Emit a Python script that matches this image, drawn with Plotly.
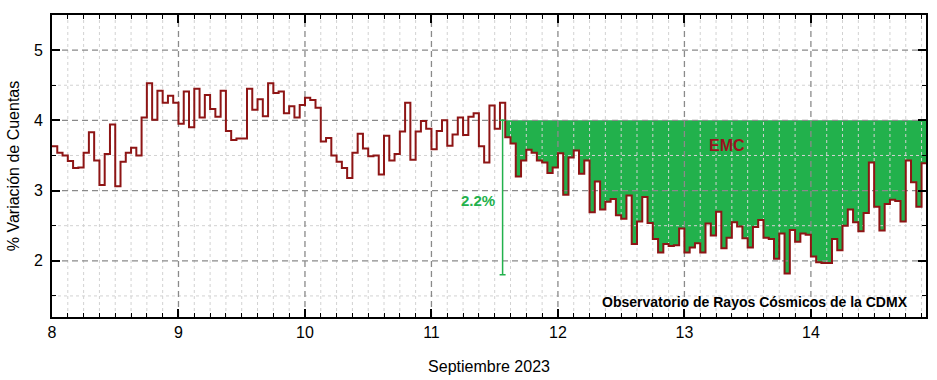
import plotly.graph_objects as go

# ---------------- data ----------------
START_DAY = 8            # 8 de septiembre 2023, 00:00
HOURS_PER_DAY = 24
variacion = [
    3.63, 3.54, 3.50, 3.42, 3.32, 3.33, 3.54, 3.83, 3.43, 3.08, 3.52, 3.94,
    3.06, 3.41, 3.54, 3.61, 3.50, 4.04, 4.53, 4.01, 4.42, 4.25, 4.35, 4.25,
    3.95, 4.41, 3.90, 4.45, 4.04, 4.36, 4.16, 4.05, 4.42, 3.85, 3.72, 3.74,
    3.74, 4.45, 4.15, 4.30, 4.06, 4.53, 4.39, 4.41, 4.10, 4.20, 4.04, 4.22,
    4.32, 4.29, 4.18, 3.70, 3.75, 3.50, 3.41, 3.32, 3.18, 3.54, 3.81, 3.60,
    3.49, 3.50, 3.23, 3.78, 3.43, 3.52, 3.84, 4.25, 3.44, 3.84, 3.99, 3.88,
    3.59, 3.85, 4.00, 3.64, 3.80, 4.04, 3.79, 4.05, 4.10, 3.63, 3.40, 4.21,
    3.88, 4.25, 3.76, 3.67, 3.20, 3.43, 3.58, 3.54, 3.43, 3.40, 3.25, 3.33,
    3.53, 2.94, 3.47, 3.57, 3.24, 3.43, 2.69, 3.13, 2.73, 2.84, 2.88, 2.65,
    2.60, 2.93, 2.24, 2.56, 2.91, 2.54, 2.31, 2.12, 2.24, 2.21, 2.22, 2.46,
    2.12, 2.19, 2.25, 2.12, 2.53, 2.36, 2.70, 2.18, 2.33, 2.55, 2.49, 2.32,
    2.19, 2.48, 2.58, 2.33, 2.31, 2.03, 2.39, 1.82, 2.44, 2.27, 2.39, 2.37,
    2.06, 1.98, 1.97, 1.97, 2.31, 2.15, 2.50, 2.73, 2.55, 2.42, 2.68, 3.40,
    2.77, 2.43, 2.81, 2.87, 2.85, 2.56, 3.43, 3.12, 2.77, 3.39,
]
EVENT_START_HOUR = 86     # inicio del decrecimiento (EMC)
BASE_LEVEL = 4.0          # nivel previo al evento
DROP = 2.2                # magnitud del decrecimiento (%)
x_ticks = [8, 9, 10, 11, 12, 13, 14]
y_ticks = [2, 3, 4, 5]
X_RANGE = [8, 14.91]
Y_RANGE = [1.2, 5.5]

# ---------------- derived ----------------
n = len(variacion)
t = [START_DAY + i / HOURS_PER_DAY for i in range(n + 1)]
v = variacion + [variacion[-1]]

RED = "#8E1515"
GREEN = "#22B14C"
FONT = "Arial, Liberation Sans, sans-serif"

fig = go.Figure()

# EMC fill between base level and the series
fig.add_trace(go.Scatter(
    x=[t[EVENT_START_HOUR], t[-1]], y=[BASE_LEVEL, BASE_LEVEL],
    mode="lines", line=dict(width=0, color=GREEN), line_shape="hv",
    showlegend=False, hoverinfo="skip"))
fig.add_trace(go.Scatter(
    x=t[EVENT_START_HOUR:], y=v[EVENT_START_HOUR:],
    mode="lines", line=dict(width=0, color=GREEN), line_shape="hv",
    fill="tonexty", fillcolor=GREEN, showlegend=False, hoverinfo="skip"))

# grid drawn above the fill
def vlines(xs):
    X, Y = [], []
    for x in xs:
        X += [x, x, None]
        Y += [Y_RANGE[0], Y_RANGE[1], None]
    return X, Y

def hlines(ys):
    X, Y = [], []
    for y in ys:
        X += [X_RANGE[0], X_RANGE[1], None]
        Y += [y, y, None]
    return X, Y

x_minor = [x_ticks[0] + k / 8 for k in range(int((X_RANGE[1] - X_RANGE[0]) * 8) + 1)
           if k % 8 != 0]
y_minor = [yt + 0.5 for yt in [1] + y_ticks if Y_RANGE[0] < yt + 0.5 < Y_RANGE[1]]

for (X, Y) in [vlines(x_minor), hlines(y_minor)]:
    fig.add_trace(go.Scatter(x=X, y=Y, mode="lines",
                             line=dict(color="#D2D2D2", width=1, dash="dot"),
                             showlegend=False, hoverinfo="skip"))
for (X, Y) in [vlines(x_ticks[1:]), hlines(y_ticks)]:
    fig.add_trace(go.Scatter(x=X, y=Y, mode="lines",
                             line=dict(color="#8A8A8A", width=1.3, dash="6px,4px"),
                             showlegend=False, hoverinfo="skip"))

# main step series
fig.add_trace(go.Scatter(
    x=t, y=v, mode="lines", line=dict(color=RED, width=2), line_shape="hv",
    showlegend=False))

# drop indicator
drop_x = t[EVENT_START_HOUR] - 0.5 / HOURS_PER_DAY
fig.add_trace(go.Scatter(
    x=[drop_x], y=[BASE_LEVEL], mode="markers",
    marker=dict(size=2, color=GREEN),
    error_y=dict(type="data", symmetric=False, array=[0], arrayminus=[DROP],
                 color=GREEN, thickness=1.5, width=3),
    showlegend=False, hoverinfo="skip"))

fig.add_annotation(x=11.365, y=2.86, text="<b>2.2%</b>", showarrow=False,
                   font=dict(family=FONT, size=15, color=GREEN))
fig.add_annotation(x=13.34, y=3.64, text="<b>EMC</b>", showarrow=False,
                   font=dict(family=FONT, size=16, color="#9B111E"))
fig.add_annotation(xref="paper", x=0.9815, y=1.42, xanchor="right",
                   text="<b>Observatorio de Rayos Cósmicos de la CDMX</b>",
                   showarrow=False, font=dict(family=FONT, size=14, color="black"))

axis_common = dict(showline=True, linecolor="black", linewidth=2,
                   mirror="allticks", ticks="inside", ticklen=8, tickwidth=1.5,
                   tickcolor="black", showgrid=False, zeroline=False,
                   automargin=False,
                   tickfont=dict(family=FONT, size=16, color="black"))

fig.update_xaxes(range=X_RANGE, tickvals=x_ticks, **axis_common,
                 minor=dict(dtick=0.125, ticks="inside", ticklen=4,
                            tickcolor="black", tickwidth=1, showgrid=False),
                 title=dict(text="Septiembre 2023", standoff=21,
                            font=dict(family=FONT, size=16, color="black")))
fig.update_yaxes(range=Y_RANGE, tickvals=y_ticks, **axis_common,
                 ticklabelstandoff=4,
                 minor=dict(dtick=0.5, ticks="inside", ticklen=4,
                            tickcolor="black", tickwidth=1, showgrid=False),
                 title=dict(text="% Variación de Cuentas", standoff=10,
                            font=dict(family=FONT, size=16, color="black")))

fig.update_layout(width=937, height=380,
                  margin=dict(l=52, r=11, t=15, b=63),
                  plot_bgcolor="white", paper_bgcolor="white")

fig.write_html("out.html", config={"displayModeBar": False},
               post_script="document.body.style.margin='0';"
                           "document.body.style.overflow='hidden';")
